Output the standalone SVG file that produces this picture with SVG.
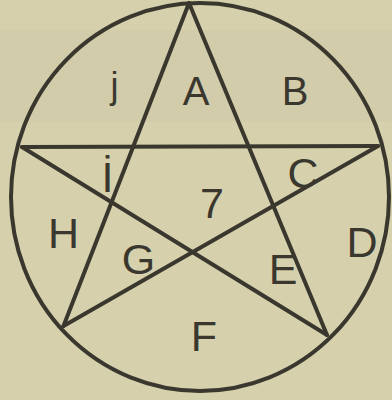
<svg xmlns="http://www.w3.org/2000/svg" width="392" height="400" viewBox="0 0 392 400">
<style>
.ln{stroke:#3a382e;stroke-width:4;fill:none;stroke-linecap:round;stroke-linejoin:round}
.lb{font-family:"Liberation Sans",Arial,sans-serif;font-size:43px;fill:#3a382e;text-anchor:middle}
</style>
<rect x="0" y="0" width="392" height="400" fill="#d6d0ac"/>
<rect x="0" y="30" width="392" height="92" fill="#cfcaa9" opacity="0.6"/>
<g id="circle">
<ellipse class="ln" cx="200" cy="197" rx="189" ry="194"/>
</g>
<g id="connectors">
<line class="ln" x1="189" y1="3" x2="63.5" y2="326"/>
<line class="ln" x1="189" y1="3" x2="327" y2="335"/>
<line class="ln" x1="22" y1="147" x2="378" y2="146"/>
<line class="ln" x1="22" y1="147" x2="327" y2="335"/>
<line class="ln" x1="378" y1="146" x2="63.5" y2="326"/>
</g>
<g id="label-j"><text class="lb" x="114.5" y="97.5" style="font-size:36px">j</text></g>
<g id="label-A"><text class="lb" x="196" y="105" style="font-size:40px">A</text></g>
<g id="label-B"><text class="lb" x="295" y="105" style="font-size:40px">B</text></g>
<g id="label-I"><text class="lb" x="107.5" y="192">İ</text></g>
<g id="label-C"><text class="lb" x="303" y="187.5">C</text></g>
<g id="label-7"><text class="lb" x="212" y="218">7</text></g>
<g id="label-H"><text class="lb" x="63.5" y="248">H</text></g>
<g id="label-G"><text class="lb" x="138.5" y="274">G</text></g>
<g id="label-E"><text class="lb" x="283" y="284">E</text></g>
<g id="label-D"><text class="lb" x="362" y="256.5">D</text></g>
<g id="label-F"><text class="lb" x="204" y="350.5">F</text></g>
</svg>
